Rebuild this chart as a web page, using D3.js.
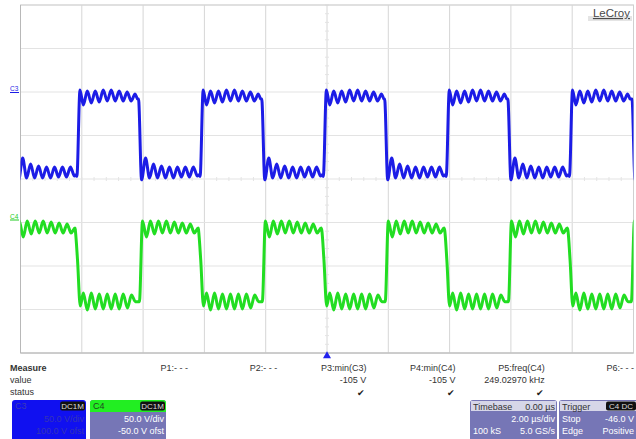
<!DOCTYPE html>
<html><head><meta charset="utf-8">
<script src="https://cdn.jsdelivr.net/npm/d3@7"></script>
<style>
html,body{margin:0;padding:0;background:#fff;}
svg{display:block;font-family:"Liberation Sans",Arial,sans-serif;}
</style></head>
<body>
<svg id="c" width="636" height="439"></svg>
<script>
// ---- scope settings ----
const timePerDiv = 2;          // µs/div
const hDivs = 10, vDivs = 8;
const c3VoltsPerDiv = 50, c3Offset = 100;
const c4VoltsPerDiv = 50, c4Offset = -50;

// ---- edge times (µs, start of each transition) ----
const c3RiseTimes = [-8.16, -4.14, -0.12, 3.89, 7.91];
const c3FallTimes = [-10.16, -6.15, -2.13, 1.88, 5.90, 9.95];
const c4FallTimes = [-8.21, -4.19, -0.17, 3.84, 7.86];
const c4RiseTimes = [-10.14, -6.12, -2.11, 1.90, 5.92, 9.93];

// ---- ringing after each edge: [µs after edge, volts] ----
const c3RiseRing = [[0,-97],[0.10,2.3],[0.21,-14.9],[0.34,1.1],[0.47,-12.6],[0.60,1.1],[0.73,-11.5],[0.86,2.3],[0.99,-10.3],[1.12,2.3],[1.25,-10.3],[1.38,1.1],[1.51,-10.3],[1.64,0],[1.77,-10.3],[1.90,-2.3],[1.98,-8]];
const c3FallRing = [[0,-8],[0.10,-101],[0.23,-75.9],[0.36,-98.9],[0.49,-82.8],[0.62,-98.9],[0.75,-85],[0.88,-98.9],[1.01,-86.2],[1.14,-98.9],[1.27,-86.2],[1.40,-97.7],[1.53,-86.2],[1.66,-97.7],[1.79,-86.2],[1.92,-96.6],[1.98,-95]];
const c4RiseRing = [[0,-91],[0.10,1.7],[0.23,-16.7],[0.36,1.7],[0.49,-13.2],[0.62,1.7],[0.75,-12.1],[0.88,1.7],[1.01,-12.1],[1.14,0.6],[1.27,-12.1],[1.40,-0.6],[1.53,-12.1],[1.66,-1.7],[1.79,-12.1],[1.92,-6.3],[1.98,-9]];
const c4FallRing = [[0,-9],[0.07,-43],[0.16,-96],[0.26,-81],[0.39,-100.6],[0.52,-81],[0.65,-99.4],[0.78,-82.2],[0.91,-99.4],[1.04,-82.2],[1.17,-99.4],[1.30,-82.2],[1.43,-99.4],[1.56,-82.2],[1.70,-98.3],[1.83,-83.3],[1.96,-91]];

// ---- measurement / descriptor text ----
const measureRows = ["Measure","value","status"];
const paramNames = ["P1:- - -","P2:- - -","P3:min(C3)","P4:min(C4)","P5:freq(C4)","P6:- - -"];
const paramValues = ["","","-105 V","-105 V","249.02970 kHz",""];
const paramStatus = [false,false,true,true,true,false];
const c3Desc = ["C3","DC1M","50.0 V/div","100.0 V ofst"];
const c4Desc = ["C4","DC1M","50.0 V/div","-50.0 V ofst"];
const tbDesc = ["Timebase","0.00 µs","2.00 µs/div","100 kS","5.0 GS/s"];
const trDesc = ["Trigger","C4 DC","Stop","-46.0 V","Edge","Positive"];

const svg = d3.select("#c");
const L = 20.5, R = 633.5, T = 5, B = 353;
const x = d3.scaleLinear().domain([-hDivs/2*timePerDiv, hDivs/2*timePerDiv]).range([L, R]);
const yC3 = d3.scaleLinear().domain([-c3Offset - vDivs/2*c3VoltsPerDiv, -c3Offset + vDivs/2*c3VoltsPerDiv]).range([B, T]);
const yC4 = d3.scaleLinear().domain([-c4Offset - vDivs/2*c4VoltsPerDiv, -c4Offset + vDivs/2*c4VoltsPerDiv]).range([B, T]);

// grid
const g = svg.append("g");
const xt = d3.range(-hDivs/2, hDivs/2+1).map(d => d*timePerDiv);
const yt = d3.range(-vDivs/2, vDivs/2+1).map(d => -c3Offset + d*c3VoltsPerDiv);
g.selectAll("line.v").data(xt).join("line").attr("x1", d=>x(d)).attr("x2", d=>x(d)).attr("y1", T).attr("y2", B)
  .attr("stroke", "#d6d6d6").attr("stroke-width", 1);
g.selectAll("line.h").data(yt).join("line").attr("y1", d=>yC3(d)).attr("y2", d=>yC3(d)).attr("x1", L).attr("x2", R)
  .attr("stroke", "#e3e3e3").attr("stroke-width", 1);
// minor ticks on centre lines
const xm = d3.range(-hDivs/2*5, hDivs/2*5+1).map(d => d*timePerDiv/5);
const ym = d3.range(-vDivs/2*5, vDivs/2*5+1).map(d => -c3Offset + d*c3VoltsPerDiv/5);
g.selectAll("line.xm").data(xm).join("line").attr("x1", d=>x(d)).attr("x2", d=>x(d)).attr("y1", yC3(-c3Offset)-2).attr("y2", yC3(-c3Offset)+2).attr("stroke","#e4e4e4");
g.selectAll("line.ym").data(ym).join("line").attr("y1", d=>yC3(d)).attr("y2", d=>yC3(d)).attr("x1", x(0)-2).attr("x2", x(0)+2).attr("stroke","#e4e4e4");
g.append("rect").attr("x", L).attr("y", T).attr("width", R-L).attr("height", B-T).attr("fill","none").attr("stroke","#d0d0d0");
g.append("path").attr("d", `M${L},${T} V${B} H${R}`).attr("fill","none").attr("stroke","#b8b8b8");

// traces
svg.append("clipPath").attr("id","clip").append("rect").attr("x", L).attr("y", T).attr("width", R-L).attr("height", B-T);
function buildTrace(riseTimes, fallTimes, riseRing, fallRing) {
  const edges = riseTimes.map(t => ({t, ring: riseRing})).concat(fallTimes.map(t => ({t, ring: fallRing}))).sort((a,b)=>a.t-b.t);
  const pts = [];
  edges.forEach((e, i) => {
    const next = i < edges.length-1 ? edges[i+1].t : Infinity;
    e.ring.forEach(([dt, v]) => { if (e.t + dt < next) pts.push([e.t + dt, v]); });
  });
  return pts;
}
const c3Pts = buildTrace(c3RiseTimes, c3FallTimes, c3RiseRing, c3FallRing);
const c4Pts = buildTrace(c4RiseTimes, c4FallTimes, c4RiseRing, c4FallRing);
const tr = svg.append("g").attr("clip-path","url(#clip)");
tr.append("path").attr("d", d3.line().x(d=>x(d[0])).y(d=>yC4(d[1])).curve(d3.curveMonotoneX)(c4Pts))
  .attr("fill","none").attr("stroke","#22dd22").attr("stroke-width",3).attr("stroke-linejoin","round");
tr.append("path").attr("d", d3.line().x(d=>x(d[0])).y(d=>yC3(d[1])).curve(d3.curveMonotoneX)(c3Pts))
  .attr("fill","none").attr("stroke","#1c1ce6").attr("stroke-width",3).attr("stroke-linejoin","round");

// channel ground markers
[[yC3(0), "C3", "#1c1ce6"], [yC4(0)-3, "C4", "#22cc22"]].forEach(([yy, t, c]) => {
  svg.append("text").attr("x", 10).attr("y", yy-1).attr("font-size", 6.5).attr("fill", c).text(t);
  svg.append("line").attr("x1", 10).attr("x2", 19).attr("y1", yy+0.5).attr("y2", yy+0.5).attr("stroke", c).attr("stroke-width", 1);
});

// trigger marker
svg.append("path").attr("d", d3.symbol(d3.symbolTriangle, 28)()).attr("transform", `translate(${x(0)},${B+3})`).attr("fill","#2222ee");

// LeCroy logo
svg.append("rect").attr("x", 588).attr("y", 16).attr("width", 44).attr("height", 5).attr("fill", "#e4e4e4");
svg.append("text").attr("x", 630).attr("y", 17).attr("text-anchor","end").attr("font-size", 11.5).attr("fill","#4a4a4a")
  .attr("text-decoration","underline").text("LeCroy");

// measurement area
const mt = svg.append("g").attr("font-size", 9).attr("fill", "#333");
mt.selectAll("text.m").data(measureRows).join("text").attr("x", 10).attr("y", (d,i)=>371 + i*12)
  .attr("font-weight", (d,i)=> i===0 ? "bold" : "normal").text(d=>d);
const colRight = d3.scaleLinear().domain([0, 5]).range([188, 634]);
mt.selectAll("text.p").data(paramNames).join("text").attr("x", (d,i)=>colRight(i)).attr("y", 371).attr("text-anchor","end").text(d=>d);
mt.selectAll("text.v").data(paramValues).join("text").attr("x", (d,i)=>colRight(i)).attr("y", 383).attr("text-anchor","end").text(d=>d);
mt.selectAll("text.s").data(paramStatus).join("text").attr("x", (d,i)=>colRight(i)-5).attr("y", 396).attr("text-anchor","middle")
  .attr("font-size", 9).attr("fill","#222").text(d=> d ? "✔" : "");

// descriptor boxes
const boxB = 445;
function tag(gx, xr, y, label) {
  const w = label.length*5.2 + 4;
  gx.append("rect").attr("x", xr - w).attr("y", y).attr("width", w).attr("height", 9).attr("rx", 2).attr("fill", "#111");
  gx.append("text").attr("x", xr - w/2).attr("y", y+7.5).attr("text-anchor","middle").attr("font-size", 8).attr("fill","#ddd").text(label);
}
// C3
const b3 = svg.append("g").attr("font-size", 9);
b3.append("rect").attr("x", 12).attr("y", 400).attr("width", 74).attr("height", boxB-400).attr("rx", 3).attr("fill", "#1010f0");
b3.append("text").attr("x", 15).attr("y", 409).attr("fill", "#3c3cb4").text(c3Desc[0]);
tag(b3, 85, 401.5, c3Desc[1]);
b3.append("text").attr("x", 84).attr("y", 422).attr("text-anchor","end").attr("fill","#3434b8").text(c3Desc[2]);
b3.append("text").attr("x", 84).attr("y", 434).attr("text-anchor","end").attr("fill","#3434b8").text(c3Desc[3]);
// C4
const b4 = svg.append("g").attr("font-size", 9);
b4.append("rect").attr("x", 90).attr("y", 400).attr("width", 76).attr("height", boxB-400).attr("rx", 3).attr("fill", "#7676b6");
b4.append("path").attr("d", "M90,412 V403 Q90,400 93,400 H163 Q166,400 166,403 V412 Z").attr("fill", "#22ee22");
b4.append("text").attr("x", 93).attr("y", 409).attr("fill", "#224422").text(c4Desc[0]);
tag(b4, 165, 401.5, c4Desc[1]);
b4.append("text").attr("x", 164).attr("y", 422).attr("text-anchor","end").attr("fill","#fff").text(c4Desc[2]);
b4.append("text").attr("x", 164).attr("y", 434).attr("text-anchor","end").attr("fill","#fff").text(c4Desc[3]);
// Timebase
const bt = svg.append("g").attr("font-size", 9);
bt.append("rect").attr("x", 470).attr("y", 400).attr("width", 87).attr("height", boxB-400).attr("rx", 3).attr("fill", "#7676b6");
bt.append("rect").attr("x", 471).attr("y", 401).attr("width", 85).attr("height", 10).attr("fill", "#d6d6e8");
bt.append("text").attr("x", 473).attr("y", 409.5).attr("fill","#333").text(tbDesc[0]);
bt.append("text").attr("x", 555).attr("y", 409.5).attr("text-anchor","end").attr("fill","#333").text(tbDesc[1]);
bt.append("text").attr("x", 555).attr("y", 422).attr("text-anchor","end").attr("fill","#fff").text(tbDesc[2]);
bt.append("text").attr("x", 473).attr("y", 434).attr("fill","#fff").text(tbDesc[3]);
bt.append("text").attr("x", 555).attr("y", 434).attr("text-anchor","end").attr("fill","#fff").text(tbDesc[4]);
// Trigger
const bg = svg.append("g").attr("font-size", 9);
bg.append("rect").attr("x", 559).attr("y", 400).attr("width", 84).attr("height", boxB-400).attr("rx", 3).attr("fill", "#7676b6");
bg.append("rect").attr("x", 560).attr("y", 401).attr("width", 80).attr("height", 10).attr("fill", "#d6d6e8");
bg.append("text").attr("x", 562).attr("y", 409.5).attr("fill","#333").text(trDesc[0]);
tag(bg, 636, 401.5, trDesc[1]);
bg.append("text").attr("x", 562).attr("y", 422).attr("fill","#fff").text(trDesc[2]);
bg.append("text").attr("x", 634).attr("y", 422).attr("text-anchor","end").attr("fill","#fff").text(trDesc[3]);
bg.append("text").attr("x", 562).attr("y", 434).attr("fill","#fff").text(trDesc[4]);
bg.append("text").attr("x", 634).attr("y", 434).attr("text-anchor","end").attr("fill","#fff").text(trDesc[5]);
</script>
</body></html>
